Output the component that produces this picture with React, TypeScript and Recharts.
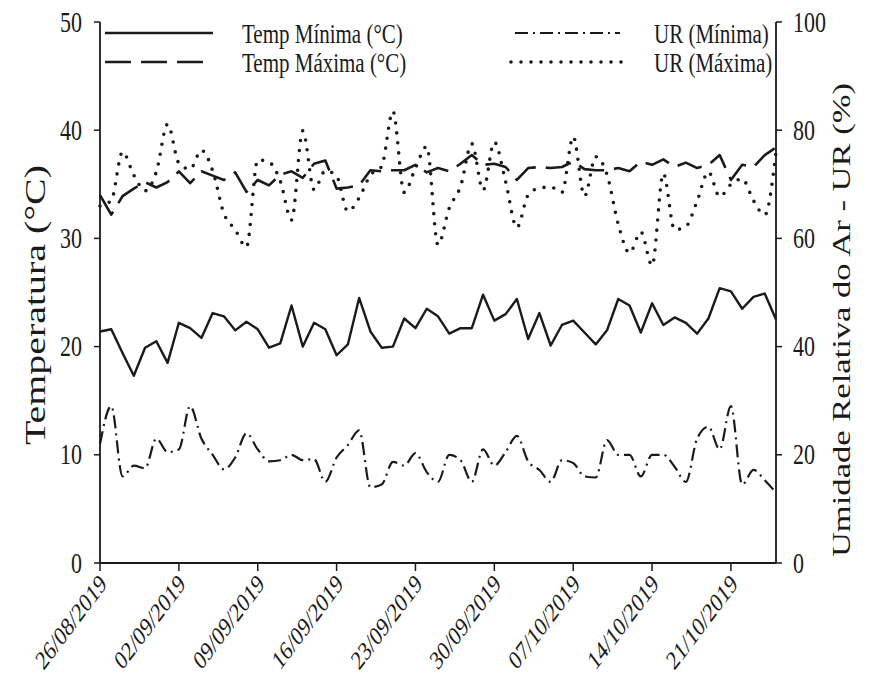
import { Customized, Line, LineChart, XAxis, YAxis } from "recharts";

const dates = [
  "26/08/2019", "27/08/2019", "28/08/2019", "29/08/2019", "30/08/2019", "31/08/2019",
  "01/09/2019", "02/09/2019", "03/09/2019", "04/09/2019", "05/09/2019", "06/09/2019",
  "07/09/2019", "08/09/2019", "09/09/2019", "10/09/2019", "11/09/2019", "12/09/2019",
  "13/09/2019", "14/09/2019", "15/09/2019", "16/09/2019", "17/09/2019", "18/09/2019",
  "19/09/2019", "20/09/2019", "21/09/2019", "22/09/2019", "23/09/2019", "24/09/2019",
  "25/09/2019", "26/09/2019", "27/09/2019", "28/09/2019", "29/09/2019", "30/09/2019",
  "01/10/2019", "02/10/2019", "03/10/2019", "04/10/2019", "05/10/2019", "06/10/2019",
  "07/10/2019", "08/10/2019", "09/10/2019", "10/10/2019", "11/10/2019", "12/10/2019",
  "13/10/2019", "14/10/2019", "15/10/2019", "16/10/2019", "17/10/2019", "18/10/2019",
  "19/10/2019", "20/10/2019", "21/10/2019", "22/10/2019", "23/10/2019", "24/10/2019",
  "25/10/2019",
];

// temperatura (°C), eixo esquerdo
const tempMin = [
  21.4, 21.6, 19.4, 17.3, 19.9, 20.5, 18.5, 22.2, 21.7, 20.8,
  23.1, 22.8, 21.5, 22.3, 21.6, 19.9, 20.3, 23.8, 20.0, 22.2,
  21.6, 19.2, 20.2, 24.5, 21.4, 19.9, 20.0, 22.6, 21.7, 23.5,
  22.8, 21.2, 21.7, 21.7, 24.8, 22.4, 23.0, 24.4, 20.7, 23.1,
  20.1, 22.0, 22.4, 21.3, 20.2, 21.5, 24.4, 23.8, 21.3, 24.0,
  22.0, 22.7, 22.2, 21.2, 22.6, 25.4, 25.1, 23.5, 24.6, 24.9,
  22.5,
];
const tempMax = [
  34.0, 32.2, 33.9, 34.6, 35.2, 34.7, 35.2, 36.2, 35.1, 36.2,
  35.8, 35.4, 36.1, 34.3, 35.4, 34.9, 35.9, 36.2, 35.6, 36.9,
  37.2, 34.6, 34.7, 34.9, 36.3, 36.2, 36.3, 36.3, 36.8, 36.1,
  36.5, 36.2, 36.9, 37.7, 36.8, 36.9, 36.6, 35.4, 36.5, 36.6,
  36.5, 36.6, 37.1, 36.4, 36.3, 36.3, 36.5, 36.2, 37.1, 36.8,
  37.3, 36.6, 37.0, 36.5, 36.8, 37.7, 35.4, 36.8, 36.6, 37.7,
  38.4,
];

// umidade relativa (%), eixo direito
const urMin = [
  22, 29, 16, 18, 17.5, 23, 20.5, 21, 29, 23,
  20, 17.3, 19.5, 24, 21, 18.8, 19, 20, 19, 19.2,
  15, 19.5, 21.8, 24.5, 14, 14.5, 18.7, 18, 20.3, 16.8,
  15, 20, 19, 15, 21, 18, 20.5, 23.5, 18.8, 17.2,
  15, 19, 18.5, 16, 15.8, 22.7, 20, 20, 16, 20,
  20, 17.8, 15, 23, 25.2, 21, 29, 14.5, 17.2, 15.3,
  13,
];
const urMax = [
  66, 67, 76, 71.7, 68.8, 72.3, 81.1, 73.9, 72.8, 76.3,
  72.5, 64.6, 61.6, 58.4, 74.5, 74.1, 70.6, 63.4, 79.9, 69,
  72.5, 71.5, 65, 67.5, 71.7, 73.3, 83.5, 68.5, 73, 77,
  58.8, 65.6, 69.6, 77.5, 68.9, 77.8, 70.5, 62, 68, 69.3,
  69.5, 68.5, 78.8, 67.8, 75.1, 71.8, 62.6, 57.3, 61.2, 55,
  72, 61.6, 62.2, 66.9, 72.3, 67.7, 70, 71, 67, 64.3,
  76,
];

const tempTicks = [0, 10, 20, 30, 40, 50];
const urTicks = [0, 20, 40, 60, 80, 100];

const data = dates.map((date, i) => ({
  date,
  tempMin: tempMin[i],
  tempMax: tempMax[i],
  urMin: urMin[i],
  urMax: urMax[i],
}));

const FONT = '"Liberation Serif", "Times New Roman", serif';
const INK = "#1a1a1a";
// a figura original está esticada na vertical
const STRETCH = 1.33;

const series = [
  { key: "tempMin", name: "Temp Mínima (°C)", axis: "temp", curve: "linear", width: 2.4, dash: undefined, cap: "butt" },
  { key: "tempMax", name: "Temp Máxima (°C)", axis: "temp", curve: "linear", width: 2.6, dash: "26 10", cap: "butt" },
  { key: "urMin", name: "UR (Mínima)", axis: "ur", curve: "monotone", width: 2.2, dash: "13 5 2 5", cap: "butt" },
  { key: "urMax", name: "UR (Máxima)", axis: "ur", curve: "monotone", width: 3.6, dash: "0 10", cap: "round" },
] as const;

const legendSlots = [
  { x1: 105, x2: 213, tx: 242, y: 33 },
  { x1: 105, x2: 213, tx: 242, y: 62 },
  { x1: 515, x2: 620, tx: 654, y: 33 },
  { x1: 511, x2: 622, tx: 654, y: 62 },
];

function LeftTick({ x, y, payload }: any) {
  return (
    <text
      transform={`translate(${x},${y}) scale(1,${STRETCH})`}
      textAnchor="end"
      dominantBaseline="central"
      fontFamily={FONT}
      fontSize={22}
      fill={INK}
    >
      {payload.value}
    </text>
  );
}

function RightTick({ x, y, payload }: any) {
  return (
    <text
      transform={`translate(${x},${y}) scale(1,${STRETCH})`}
      textAnchor="start"
      dominantBaseline="central"
      fontFamily={FONT}
      fontSize={22}
      fill={INK}
    >
      {payload.value}
    </text>
  );
}

function DateTick({ x, y, payload }: any) {
  return (
    <text
      transform={`translate(${x + 3},${y + 4}) scale(1,${STRETCH}) rotate(-45)`}
      textAnchor="end"
      dominantBaseline="central"
      fontFamily={FONT}
      fontSize={20}
      fill={INK}
    >
      {payload.value}
    </text>
  );
}

function Annotations() {
  return (
    <g>
      {series.map((s, i) => {
        const slot = legendSlots[i];
        return (
          <g key={s.key}>
            <line
              x1={slot.x1}
              x2={slot.x2}
              y1={slot.y}
              y2={slot.y}
              stroke={INK}
              strokeWidth={s.width}
              strokeDasharray={s.dash}
              strokeLinecap={s.cap}
            />
            <text
              transform={`translate(${slot.tx},${slot.y}) scale(1,${STRETCH})`}
              dominantBaseline="central"
              fontFamily={FONT}
              fontSize={21}
              fill={INK}
            >
              {s.name}
            </text>
          </g>
        );
      })}
      <text
        transform={`translate(35,305) scale(1,${STRETCH}) rotate(-90)`}
        textAnchor="middle"
        dominantBaseline="central"
        fontFamily={FONT}
        fontSize={30}
        fill={INK}
      >
        Temperatura (°C)
      </text>
      <text
        transform={`translate(842,320) scale(1,${STRETCH}) rotate(-90)`}
        textAnchor="middle"
        dominantBaseline="central"
        fontFamily={FONT}
        fontSize={26}
        fill={INK}
      >
        Umidade Relativa do Ar - UR (%)
      </text>
    </g>
  );
}

export default function App() {
  return (
    <div style={{ position: "absolute", left: 0, top: 0, background: "#fff" }}>
      <LineChart
        width={877}
        height={681}
        data={data}
        margin={{ top: 22, right: 0, bottom: 0, left: 0 }}
      >
        <XAxis
          dataKey="date"
          interval={6}
          height={118}
          tickSize={8}
          tickMargin={4}
          tick={<DateTick />}
          axisLine={{ stroke: INK, strokeWidth: 1.8 }}
          tickLine={{ stroke: INK, strokeWidth: 1.5 }}
        />
        <YAxis
          yAxisId="temp"
          domain={[0, 50]}
          ticks={tempTicks}
          width={100}
          tickSize={6}
          tickMargin={12}
          tick={<LeftTick />}
          axisLine={{ stroke: INK, strokeWidth: 1.8 }}
          tickLine={{ stroke: INK, strokeWidth: 1.5 }}
        />
        <YAxis
          yAxisId="ur"
          orientation="right"
          domain={[0, 100]}
          ticks={urTicks}
          width={101}
          tickSize={6}
          tickMargin={11}
          tick={<RightTick />}
          axisLine={{ stroke: INK, strokeWidth: 1.8 }}
          tickLine={{ stroke: INK, strokeWidth: 1.5 }}
        />
        {series.map((s) => (
          <Line
            key={s.key}
            yAxisId={s.axis}
            dataKey={s.key}
            name={s.name}
            type={s.curve}
            stroke={INK}
            strokeWidth={s.width}
            strokeDasharray={s.dash}
            strokeLinecap={s.cap}
            strokeLinejoin="round"
            dot={false}
            activeDot={false}
            isAnimationActive={false}
          />
        ))}
        <Customized component={Annotations} />
      </LineChart>
    </div>
  );
}
